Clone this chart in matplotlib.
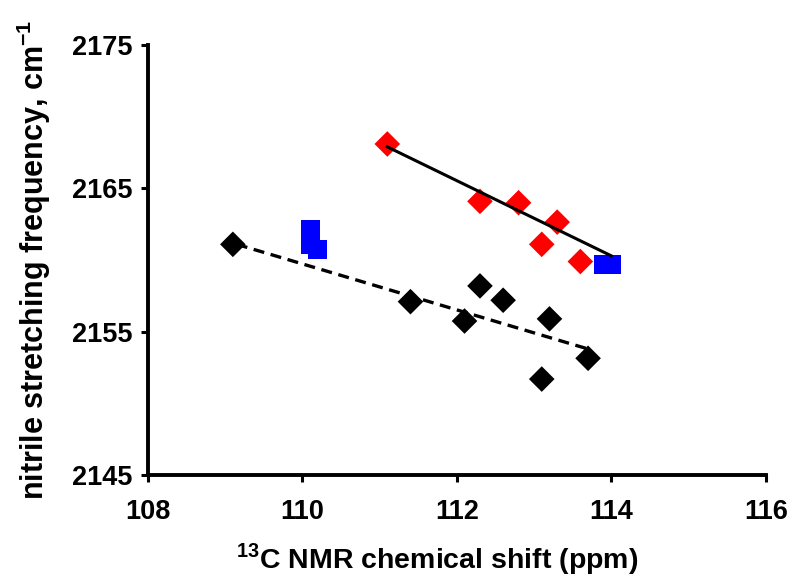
import matplotlib
matplotlib.use("Agg")
import matplotlib.pyplot as plt

plt.rcParams["font.family"] = ["Liberation Sans", "DejaVu Sans"]
plt.rcParams["font.weight"] = "bold"
plt.rcParams["mathtext.fontset"] = "custom"
plt.rcParams["mathtext.rm"] = "Liberation Sans:bold"
plt.rcParams["mathtext.bf"] = "Liberation Sans:bold"

# red diamonds (solid fit)
red_x = [111.1, 112.3, 112.8, 113.3, 113.1, 113.6]
red_y = [2168.1, 2164.1, 2164.0, 2162.65, 2161.1, 2159.9]

# blue squares
blue_x = [110.1, 110.1, 110.2, 113.9, 114.0]
blue_y = [2162.1, 2161.1, 2160.75, 2159.7, 2159.7]

# black diamonds (dashed fit)
black_x = [109.1, 111.4, 112.3, 112.6, 112.1, 113.2, 113.1, 113.7]
black_y = [2161.1, 2157.1, 2158.2, 2157.2, 2155.75, 2155.9, 2151.7, 2153.15]

# fitted lines
solid_x = [111.1, 114.0]
solid_y = [2167.9, 2160.3]
dashed_x = [109.15, 113.7]
dashed_y = [2161.1, 2153.8]

fig = plt.figure(figsize=(7.91, 5.78), dpi=100)
ax = fig.add_axes([0.187, 0.178, 0.781, 0.744])

ax.plot(solid_x, solid_y, color="black", lw=2.2, zorder=3)
ax.plot(dashed_x, dashed_y, color="black", lw=2.4, dashes=(3.3, 2), zorder=3)
ax.scatter(red_x, red_y, marker="D", s=170, color="#ff0000", edgecolors="none", zorder=2)
ax.scatter(black_x, black_y, marker="D", s=170, color="black", edgecolors="none", zorder=2)
ax.scatter(blue_x, blue_y, marker="s", s=190, color="#0000ff", edgecolors="none", zorder=2)

ax.set_xlim(108, 116)
ax.set_ylim(2145, 2175)
ax.set_xticks([108, 110, 112, 114, 116])
ax.set_yticks([2145, 2155, 2165, 2175])
ax.spines["top"].set_visible(False)
ax.spines["right"].set_visible(False)
for s in ["left", "bottom"]:
    ax.spines[s].set_linewidth(2.8)
ax.tick_params(direction="out", length=5, width=2.2, labelsize=19.5)
ax.tick_params(axis="x", pad=12.5)
ax.tick_params(axis="y", pad=6)
for lab in ax.get_xticklabels() + ax.get_yticklabels():
    lab.set_fontweight("bold")

ax.set_xlabel("$^{13}$C NMR chemical shift (ppm)", fontsize=20.5, fontweight="bold")
ax.xaxis.set_label_coords(0.469, -0.153)
ax.set_ylabel("nitrile stretching frequency, cm$^{-1}$", fontsize=22, fontweight="bold", labelpad=14)

fig.savefig("out.png", dpi=100)
